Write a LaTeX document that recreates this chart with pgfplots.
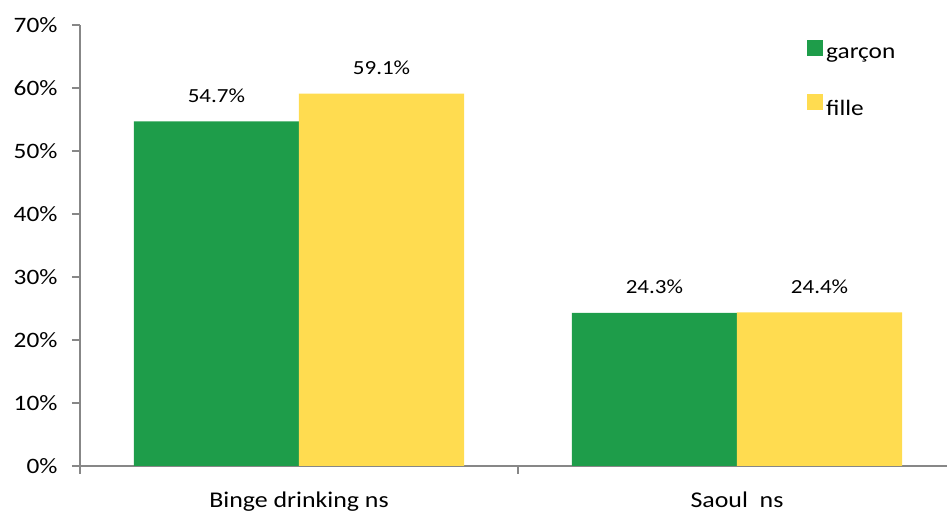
\documentclass[border=0pt]{standalone}
\usepackage{pgfplots}
\pgfplotsset{compat=1.18}
\usepackage{fontspec}
\setmainfont{Carlito}[FakeStretch=1.15]

\definecolor{garcon}{RGB}{30,157,74}
\definecolor{fille}{RGB}{255,220,80}
\definecolor{axisgray}{RGB}{135,135,135}

\begin{document}
\begin{tikzpicture}
\begin{axis}[
  name=ax,
  scale only axis,
  width=867pt, height=441pt,
  ybar=0pt, bar width=0.377,
  xmin=-0.5, xmax=1.4795,
  ymin=0, ymax=70,
  axis x line*=bottom, axis y line*=left,
  axis line style={draw=axisgray, line width=1.2pt},
  tick align=outside,
  tick style={draw=axisgray, line width=1.2pt},
  major tick length=8pt,
  ytick={0,10,...,70},
  yticklabel={\pgfmathprintnumber{\tick}\%},
  yticklabel style={font=\fontsize{22}{26}\selectfont, xshift=-11pt},
  xtick={-0.5,0.5},
  xticklabels={},
  extra x ticks={0,1},
  extra x tick labels={Binge drinking ns, Saoul~~ns},
  extra x tick style={major tick length=0pt,
    xticklabel style={font=\fontsize{22.5}{26}\selectfont, yshift=-22pt}},
  /pgf/number format/assume math mode=true,
  nodes near coords={\pgfmathprintnumber[fixed,precision=1,fixed zerofill]{\pgfplotspointmeta}\%},
  every node near coord/.append style={font=\fontsize{20}{24}\selectfont,
    anchor=base, yshift=19pt, inner sep=0pt},
  legend style={at={(rel axis cs:0.8385,0.966)}, anchor=north west,
    draw=none, fill=none, font=\fontsize{22}{26}\selectfont,
    row sep=31pt, inner sep=0pt,
    nodes={inner sep=3pt}},
  legend cell align=left,
  legend image code/.code={\fill[#1] (0pt,-2pt) rectangle (16pt,14pt);},
]
\addplot[fill=garcon, draw=none] coordinates {(0,54.7) (1,24.3)};
\addplot[fill=fille, draw=none] coordinates {(0,59.1) (1,24.4)};
\legend{garçon, fille}
\end{axis}
\pgfresetboundingbox
\path (ax.south west) ++(-80pt,-47pt) coordinate (bl);
\path (ax.north east) ++(0pt,25pt) coordinate (tr);
\path (bl) rectangle (tr);
\end{tikzpicture}
\end{document}
